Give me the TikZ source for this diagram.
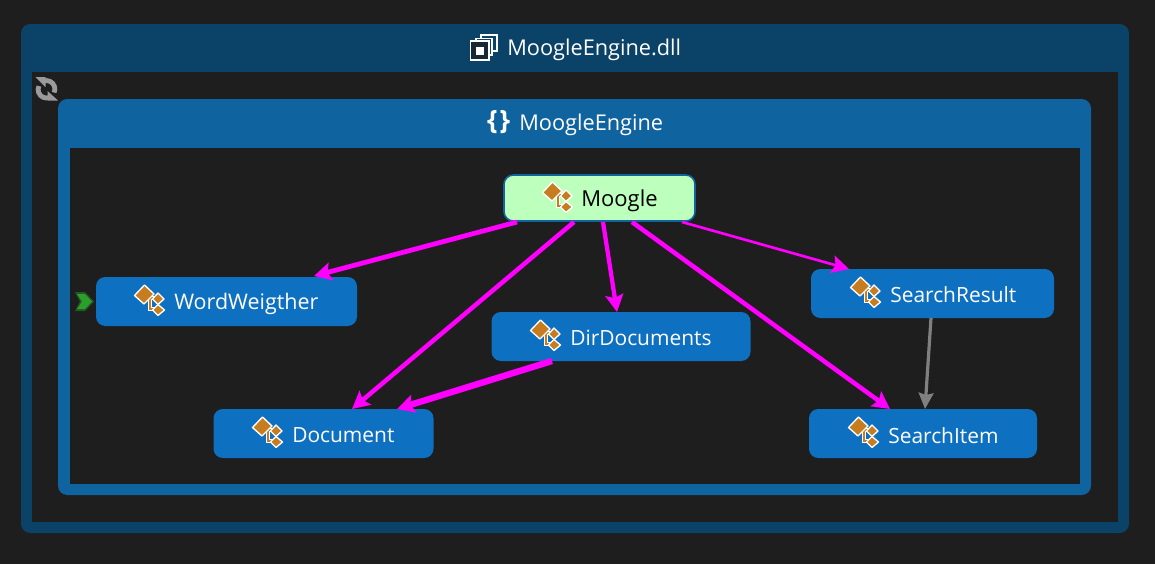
\documentclass[tikz,border=0pt]{standalone}
\usepackage{fontspec}
\setmainfont{Open Sans}
\usetikzlibrary{arrows.meta,calc}
\definecolor{bgc}{HTML}{1E1E1E}
\definecolor{dllc}{HTML}{0A4268}
\definecolor{nsc}{HTML}{0F639F}
\definecolor{boxc}{HTML}{0E70C0}
\definecolor{mgc}{HTML}{BDFFBD}
\definecolor{icc}{HTML}{C67C1F}
\definecolor{magc}{HTML}{FF00FF}
\definecolor{grayc}{HTML}{808080}
\definecolor{refc}{HTML}{9A9A9A}
\definecolor{mkc}{HTML}{2AA02A}
\newcommand{\lbl}{\fontsize{15.7pt}{20pt}\selectfont}
\newcommand{\wbl}{\fontsize{16.1pt}{20pt}\selectfont}
\newcommand{\mbl}{\fontsize{16.5pt}{20pt}\selectfont}
\newcommand{\ttl}{\fontsize{16.3pt}{20pt}\selectfont}
\tikzset{
  x=0.75pt,y=-0.75pt,
  cls/.style={draw=none,fill=boxc,rounded corners=7pt,text=white,inner sep=0pt},
  lab/.style={inner sep=0pt,anchor=west,text=white,font=\lbl},
  tlab/.style={inner sep=0pt,anchor=west,text=white,font=\ttl},
  edge/.style={draw=magc,-{Stealth[length=13pt,width=13.5pt,inset=2.5pt]},line width=#1},
  gedge/.style={draw=grayc,-{Stealth[length=12pt,width=11pt,inset=1.5pt]},line width=2.4pt},
  dia/.style={fill=icc,draw=white,line width=1pt,line join=round},
  pics/classicon/.style={code={
    \draw[white,line width=2.6pt] (0,-2)--(0,9)--(5,9);
    \draw[white,line width=2.6pt] (-2,-2)--(6,-2);
    \draw[icc,line width=1pt] (0,-2)--(0,9)--(5,9);
    \draw[icc,line width=1pt] (-2,-2)--(6,-2);
    \draw[dia] (-15.5,-4.5)--(-5.5,-15)--(4,-6)--(-6,4)--cycle;
    \draw[dia] (8,-7)--(14,-1)--(8,4.5)--(2.5,-1)--cycle;
    \draw[dia] (8,4.5)--(14.5,10)--(8,15.5)--(2.5,10)--cycle;
  }}
}
\begin{document}
\begin{tikzpicture}
\fill[bgc] (0,0) rectangle (1155,564);
\useasboundingbox (0,0) rectangle (1155,564);
% containers
\fill[dllc,rounded corners=7pt] (21,24) rectangle (1129,533);
\fill[bgc] (32,72) rectangle (1118,522);
\fill[nsc,rounded corners=7pt] (58,99) rectangle (1091,495);
\fill[bgc] (70,148) rectangle (1080,484);
% titles
\node[tlab] (tdll) at (507,50) {MoogleEngine.dll};
\node[tlab] (tns) at (519,125) {MoogleEngine};
% dll icon
\draw[white,line width=1pt,fill=dllc] (481,35)--(497,35)--(497,51)--(481,51)--cycle;
\draw[white,line width=1pt,fill=dllc] (476,38.500)--(492,38.500)--(492,55)--(476,55)--cycle;
\draw[white,line width=1.3pt,fill=bgc!70!dllc] (470.500,41)--(489,41)--(489,60)--(470.500,60)--cycle;
\fill[white] (476,46.500) rectangle (484,55);
% namespace icon
\node[inner sep=0pt,text=white,font=\fontsize{20pt}{22pt}\selectfont\bfseries] (nsicon) at (498.5,122) {\{\hspace{1.5pt}\}};
% refresh icon
\draw[refc,line width=3.6pt] (43.6,81.1) arc[start angle=250,end angle=385,radius=8.4];
\draw[refc,line width=3.6pt] (49.4,97.5) arc[start angle=70,end angle=205,radius=8.4];
\fill[refc] (35.5,77)--(45.5,77)--(45.5,87)--cycle;
\fill[refc] (58,100.5)--(47.5,100.5)--(47.5,91)--cycle;
% nodes
\node[cls,minimum width=261*0.75pt,minimum height=49*0.75pt] (ww) at (226.5,301.5) {};
\node[cls,minimum width=220*0.75pt,minimum height=49*0.75pt] (doc) at (323.5,433.5) {};
\node[cls,minimum width=259*0.75pt,minimum height=49*0.75pt] (dd) at (621,336.5) {};
\node[cls,minimum width=243*0.75pt,minimum height=49*0.75pt] (sr) at (932.5,293.5) {};
\node[cls,minimum width=228*0.75pt,minimum height=49*0.75pt] (si) at (923,433.5) {};
\node[cls,draw=nsc,line width=1.2pt,fill=mgc,minimum width=191*0.75pt,minimum height=46*0.75pt] (mg) at (599.5,198) {};
% labels
\node[lab,font=\wbl] (lww) at (174,304) {WordWeigther};
\node[lab] (ldoc) at (292,435.5) {Document};
\node[lab] (ldd) at (570,338) {DirDocuments};
\node[lab] (lsr) at (890,295) {SearchResult};
\node[lab] (lsi) at (888,435.5) {SearchItem};
\node[lab,text=black,font=\mbl] (lmg) at (581,200.5) {Moogle};
% icons
\pic at (150,300) {classicon};
\pic at (268,432) {classicon};
\pic at (546,335) {classicon};
\pic at (866,292) {classicon};
\pic at (864,432) {classicon};
\pic at (558,197) {classicon};
% entry marker
\fill[mkc!45!bgc] (75,292)--(85,292)--(94,301.5)--(85,311)--(75,311)--(80,301.5)--cycle;
\fill[mkc] (77,294)--(85,294)--(92,301.5)--(85,309)--(77,309)--(82,301.5)--cycle;
% connector ends
\coordinate (m1) at (517,222);
\coordinate (m2) at (574,222);
\coordinate (m3) at (603,222);
\coordinate (m4) at (632,222);
\coordinate (m5) at (682,222);
\coordinate (e1) at (314,276);
\coordinate (e2) at (352,409);
\coordinate (e3) at (617,312);
\coordinate (e4) at (890,409);
\coordinate (e5) at (849,269);
\coordinate (d1) at (552,361);
\coordinate (e6) at (397,409);
\coordinate (s1) at (931,318);
\coordinate (e7) at (925,409);
\draw[edge=3.6pt] (m1)--(e1);
\draw[edge=3.4pt] (m2)--(e2);
\draw[edge=3.2pt] (m3)--(e3);
\draw[edge=3.4pt] (m4)--(e4);
\draw[edge=2pt] (m5)--(e5);
\draw[edge=4.8pt] (d1)--(e6);
\draw[gedge] (s1)--(e7);
\end{tikzpicture}
\end{document}
